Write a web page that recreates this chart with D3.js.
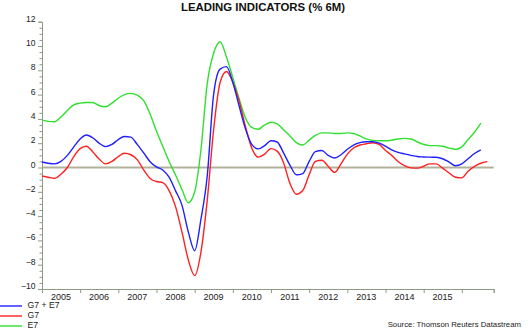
<!DOCTYPE html>
<html><head><meta charset="utf-8">
<script src="https://cdn.jsdelivr.net/npm/d3@7"></script>
<style>html,body{margin:0;padding:0;background:#fff;}svg{display:block;font-family:"Liberation Sans",Arial,sans-serif;}</style>
</head><body>
<svg id="c" width="530" height="331"></svg>
<script>
// Bi-monthly observations starting Jan 2005
const startYear = 2005;
const seriesNames = ["G7 + E7", "G7", "E7"];
const seriesColors = ["#2020ff", "#ff2020", "#30e030"];
const g7e7 = [0.45,0.35,0.3,0.5,1.0,1.7,2.35,2.67,2.45,2.0,1.72,1.9,2.3,2.55,2.5,1.9,1.2,0.48,0.05,-0.2,-0.8,-1.9,-3.1,-5.3,-6.85,-4.3,-0.7,6.0,8.1,8.3,7.0,5.1,3.2,1.9,1.53,1.8,2.2,2.1,1.2,0.2,-0.6,-0.5,0.5,1.3,1.4,1.0,0.78,1.05,1.5,1.85,2.05,2.12,2.12,2.0,1.75,1.45,1.25,1.12,1.0,0.9,0.87,0.85,0.84,0.72,0.45,0.15,0.3,0.72,1.15,1.45];
const g7 = [-0.7,-0.8,-0.89,-0.55,0.0,0.9,1.55,1.75,1.3,0.7,0.3,0.5,0.9,1.17,1.05,0.65,-0.2,-0.9,-1.15,-1.25,-1.9,-3.2,-5.3,-7.6,-8.9,-7.0,-2.7,3.1,7.0,7.9,7.0,5.5,3.4,1.6,0.85,1.1,1.55,1.35,0.4,-1.3,-2.2,-1.9,-0.6,0.5,0.6,0.1,-0.4,0.3,1.1,1.6,1.85,1.95,2.04,1.9,1.4,1.0,0.5,0.15,-0.03,-0.05,0.1,0.3,0.3,-0.05,-0.45,-0.8,-0.85,-0.3,0.1,0.35,0.48];
const e7 = [3.9,3.8,3.77,4.15,4.7,5.15,5.3,5.35,5.35,5.1,5.0,5.3,5.7,6.0,6.1,5.95,5.5,4.4,3.0,1.75,0.5,-0.6,-1.8,-2.9,-2.0,1.4,6.9,9.4,10.35,9.1,7.4,5.7,4.1,3.3,3.15,3.5,3.72,3.6,3.1,2.6,2.05,1.85,2.25,2.65,2.85,2.85,2.8,2.8,2.85,2.8,2.6,2.35,2.22,2.2,2.2,2.25,2.35,2.4,2.35,2.1,1.9,1.8,1.8,1.75,1.6,1.5,1.7,2.3,2.9,3.65];
const yTicks = [-10,-8,-6,-4,-2,0,2,4,6,8,10,12];
const yearLabels = ["2005","2006","2007","2008","2009","2010","2011","2012","2013","2014","2015"];
const titleText = "LEADING INDICATORS (% 6M)";
const sourceText = "Source: Thomson Reuters Datastream";

const svg = d3.select("#c");
const x = d3.scaleTime().domain([new Date(2005,0,1), new Date(2016,10,1)]).range([42, 493.7]);
const y = d3.scaleLinear().domain([-10, 12]).range([289, 21.7]);
const dateOf = i => new Date(startYear, i*2, 1);

// title
svg.append("text").attr("x", 263).attr("y", 10.5).attr("text-anchor","middle")
  .attr("font-size", 11.4).attr("font-weight","bold").attr("fill","#111").text(titleText);

// zero line
svg.append("line").attr("x1", x.range()[0]).attr("x2", x.range()[1]).attr("y1", y(0)).attr("y2", y(0))
  .attr("stroke","#b2b29c").attr("stroke-width",2);

// y axis
const axisColor = "#8f9a84";
const yAxis = d3.axisLeft(y).tickValues(d3.range(-10, 12.01, 0.5)).tickSize(3).tickFormat("");
const ya = svg.append("g").attr("transform","translate(42,0)").call(yAxis);
ya.select(".domain").attr("stroke", axisColor);
ya.selectAll(".tick line").attr("stroke", axisColor).attr("x2", d => (Math.abs(d % 2) < 1e-9) ? -4 : -2.5);
const yl = d3.axisLeft(y).tickValues(yTicks).tickSize(0).tickPadding(0);
const yla = svg.append("g").attr("transform","translate(35.5,0)").call(yl);
yla.select(".domain").remove();
yla.selectAll("text").attr("font-size", 8.6).attr("font-family", "Liberation Sans, Arial, sans-serif")
  .attr("fill","#222").attr("dy", "-0.5px");

// x axis
const yearTicks = d3.range(2005, 2017).map(yr => new Date(yr,0,1)).concat([x.domain()[1]]);
const xAxis = d3.axisBottom(x).tickValues(yearTicks).tickSize(4).tickFormat("");
const xa = svg.append("g").attr("transform","translate(0,289)").call(xAxis);
xa.select(".domain").attr("stroke", axisColor);
xa.selectAll(".tick line").attr("stroke", axisColor);
svg.append("g").selectAll("text").data(yearLabels).join("text")
  .attr("x", d => x(new Date(+d, 6, 1))).attr("y", 299.5).attr("text-anchor","middle")
  .attr("font-size", 9).attr("fill","#222").text(d => d);

// series
const line = d3.line().x((d,i) => x(dateOf(i))).y(d => y(d)).curve(d3.curveMonotoneX);
const data = [g7e7, g7, e7];
[2,1,0].forEach(k => {
  svg.append("path").datum(data[k]).attr("d", line).attr("fill","none")
    .attr("stroke", seriesColors[k]).attr("stroke-width", 1.4).attr("stroke-linejoin","round");
});

// legend
const ly = [306.5, 316.5, 326.5];
seriesNames.forEach((n, k) => {
  svg.append("line").attr("x1", 0).attr("x2", 22).attr("y1", ly[k] - 0.5).attr("y2", ly[k] - 0.5)
    .attr("stroke", seriesColors[k]).attr("stroke-width", 1.4);
  svg.append("text").attr("x", 27.5).attr("y", ly[k] + 1.5).attr("font-size", 8.7).attr("fill","#222").text(n);
});

// source
svg.append("text").attr("x", 521).attr("y", 326.5).attr("text-anchor","end")
  .attr("font-size", 7.8).attr("fill","#222").text(sourceText);
</script>
</body></html>
